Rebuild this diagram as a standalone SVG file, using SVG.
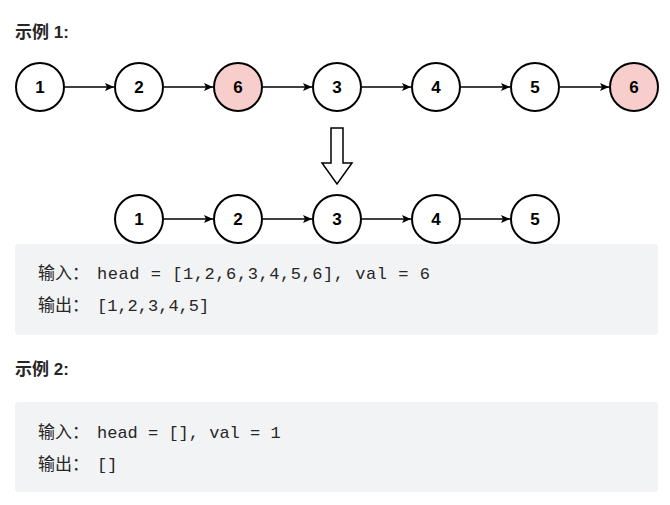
<svg xmlns="http://www.w3.org/2000/svg" width="670" height="505" viewBox="0 0 670 505">
<style>
.n{fill:#fff;stroke:#000;stroke-width:2}
.r{fill:#f8cecc}
.l{font-family:"Liberation Sans",Arial,sans-serif;font-weight:bold;font-size:17px;text-anchor:middle;dominant-baseline:central}
.e{stroke:#000;stroke-width:1.5;fill:none;marker-end:url(#a)}
.h{font-family:"Liberation Sans","Noto Sans CJK SC",sans-serif;font-weight:bold;font-size:17px;fill:#262626}
.c{font-family:"Liberation Mono","Noto Sans CJK SC",monospace;font-size:17px;fill:#262626}
.k{font-family:"Noto Sans CJK SC",sans-serif;font-size:17px}
.b{fill:#f2f3f5}
</style>
<defs><marker id="a" markerWidth="10" markerHeight="10" refX="9" refY="5" orient="auto" markerUnits="userSpaceOnUse"><path d="M0,1 L9,5 L0,9 L2,5 Z" fill="#000"/></marker></defs>
<rect width="670" height="505" fill="#fff"/>
<text class="h" x="15" y="38">示例 1:</text>
<g id="connectors">
<line class="e" x1="65" y1="87" x2="114" y2="87"/>
<line class="e" x1="164" y1="87" x2="213" y2="87"/>
<line class="e" x1="263" y1="87" x2="312" y2="87"/>
<line class="e" x1="362" y1="87" x2="411" y2="87"/>
<line class="e" x1="461" y1="87" x2="510" y2="87"/>
<line class="e" x1="560" y1="87" x2="609" y2="87"/>
<line class="e" x1="164" y1="219" x2="213" y2="219"/>
<line class="e" x1="263" y1="219" x2="312" y2="219"/>
<line class="e" x1="362" y1="219" x2="411" y2="219"/>
<line class="e" x1="461" y1="219" x2="510" y2="219"/>
</g>
<g id="t1"><circle class="n" cx="40" cy="87" r="24"/><text class="l" x="40" y="87">1</text></g>
<g id="t2"><circle class="n" cx="139" cy="87" r="24"/><text class="l" x="139" y="87">2</text></g>
<g id="t3"><circle class="n r" cx="238" cy="87" r="24"/><text class="l" x="238" y="87">6</text></g>
<g id="t4"><circle class="n" cx="337" cy="87" r="24"/><text class="l" x="337" y="87">3</text></g>
<g id="t5"><circle class="n" cx="436" cy="87" r="24"/><text class="l" x="436" y="87">4</text></g>
<g id="t6"><circle class="n" cx="535" cy="87" r="24"/><text class="l" x="535" y="87">5</text></g>
<g id="t7"><circle class="n r" cx="634" cy="87" r="24"/><text class="l" x="634" y="87">6</text></g>
<g id="arrow"><path d="M331,128 H343 V163 H352 L337,184 L322,163 H331 Z" fill="#fff" stroke="#000" stroke-width="1.5"/></g>
<g id="b1"><circle class="n" cx="139" cy="219" r="24"/><text class="l" x="139" y="219">1</text></g>
<g id="b2"><circle class="n" cx="238" cy="219" r="24"/><text class="l" x="238" y="219">2</text></g>
<g id="b3"><circle class="n" cx="337" cy="219" r="24"/><text class="l" x="337" y="219">3</text></g>
<g id="b4"><circle class="n" cx="436" cy="219" r="24"/><text class="l" x="436" y="219">4</text></g>
<g id="b5"><circle class="n" cx="535" cy="219" r="24"/><text class="l" x="535" y="219">5</text></g>
<rect class="b" x="15" y="244" width="643" height="91" rx="4"/>
<text class="c" x="38" y="279"><tspan class="k">输入：</tspan><tspan x="97" textLength="333">head = [1,2,6,3,4,5,6], val = 6</tspan></text>
<text class="c" x="38" y="311"><tspan class="k">输出：</tspan><tspan x="97">[1,2,3,4,5]</tspan></text>
<text class="h" x="15" y="375">示例 2:</text>
<rect class="b" x="15" y="402" width="643" height="90" rx="4"/>
<text class="c" x="38" y="438"><tspan class="k">输入：</tspan><tspan x="97">head = [], val = 1</tspan></text>
<text class="c" x="38" y="470"><tspan class="k">输出：</tspan><tspan x="97">[]</tspan></text>
</svg>
